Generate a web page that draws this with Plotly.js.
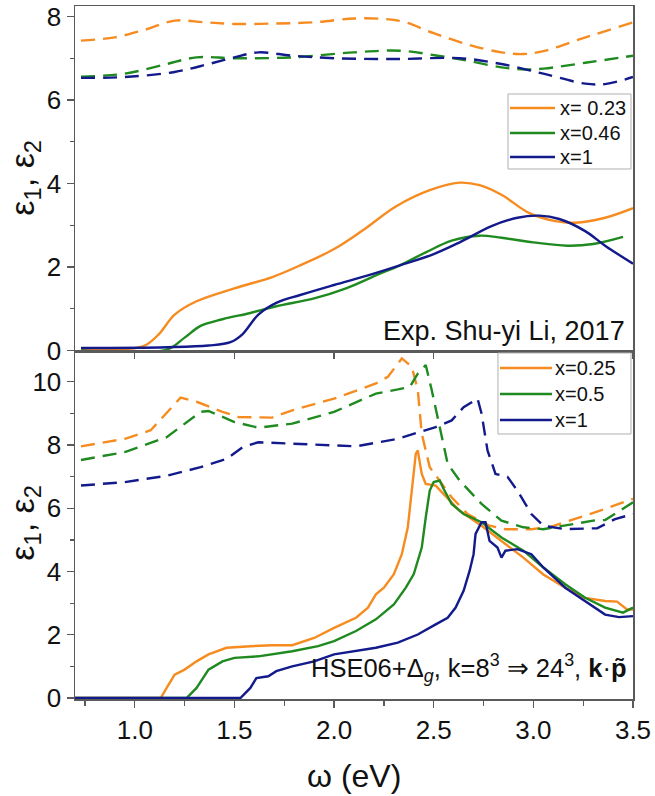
<!DOCTYPE html>
<html>
<head>
<meta charset="utf-8">
<script src="https://cdn.plot.ly/plotly-3.0.1.min.js"></script>
<style>html,body{margin:0;padding:0;background:#fff;}#chart{width:655px;height:796px;}</style>
</head>
<body>
<div id="chart"></div>
<script>
// ---------- Top panel: experiment (Shu-yi Li, 2017) ----------
const expE1_023_x = [0.73,0.9,1.05,1.2,1.35,1.5,1.7,1.9,2.1,2.25,2.35,2.5,2.67,2.84,2.95,3.05,3.25,3.5];
const expE1_023_y = [7.42,7.5,7.68,7.9,7.86,7.82,7.83,7.86,7.95,7.94,7.87,7.6,7.33,7.14,7.1,7.17,7.48,7.86];
const expE1_046_x = [0.73,0.95,1.16,1.31,1.5,1.79,2.1,2.33,2.52,2.67,2.84,2.96,3.05,3.26,3.5];
const expE1_046_y = [6.56,6.63,6.86,7.02,7.0,7.02,7.14,7.18,7.06,6.94,6.78,6.73,6.75,6.89,7.06];
const expE1_1_x = [0.73,0.95,1.2,1.37,1.5,1.62,1.79,2.0,2.31,2.63,2.84,3.05,3.26,3.36,3.5];
const expE1_1_y = [6.53,6.55,6.67,6.86,7.02,7.14,7.06,7.0,6.98,7.0,6.86,6.63,6.39,6.38,6.55];

const expE2_023_x = [0.73,1.04,1.12,1.2,1.31,1.5,1.69,1.83,2.0,2.15,2.31,2.48,2.63,2.73,2.84,2.98,3.11,3.21,3.36,3.5];
const expE2_023_y = [0.05,0.1,0.39,0.86,1.18,1.49,1.76,2.04,2.43,2.9,3.45,3.84,4.02,3.96,3.73,3.29,3.1,3.06,3.18,3.41];
const expE2_046_x = [0.73,1.16,1.25,1.33,1.44,1.58,1.71,1.9,2.06,2.21,2.33,2.46,2.59,2.73,2.84,3.0,3.17,3.3,3.45];
const expE2_046_y = [0.0,0.02,0.31,0.59,0.75,0.9,1.06,1.25,1.49,1.8,2.04,2.35,2.63,2.75,2.7,2.59,2.51,2.55,2.72];
const expE2_1_x = [0.73,1.16,1.37,1.48,1.54,1.62,1.71,1.83,2.0,2.17,2.33,2.5,2.63,2.79,2.92,3.03,3.13,3.26,3.36,3.5];
const expE2_1_y = [0.06,0.08,0.12,0.2,0.39,0.86,1.14,1.33,1.57,1.8,2.04,2.31,2.59,2.98,3.18,3.23,3.15,2.86,2.51,2.08];

// ---------- Bottom panel: HSE06 calculation ----------
const thE1_025_x = [0.73,0.95,1.08,1.23,1.31,1.44,1.52,1.69,1.79,2.0,2.21,2.27,2.34,2.39,2.42,2.44,2.48,2.53,2.59,2.67,2.78,2.86,2.99,3.09,3.26,3.36,3.5];
const thE1_025_y = [7.96,8.2,8.47,9.5,9.37,9.05,8.89,8.87,9.1,9.47,9.95,10.16,10.74,10.48,9.74,8.36,7.3,6.88,6.35,5.82,5.45,5.34,5.34,5.42,5.77,5.98,6.3];
const thE1_05_x = [0.73,0.95,1.16,1.33,1.37,1.5,1.62,1.79,2.0,2.21,2.32,2.38,2.42,2.46,2.49,2.53,2.57,2.63,2.74,2.84,2.95,3.05,3.16,3.3,3.36,3.5];
const thE1_05_y = [7.53,7.78,8.25,9.05,9.08,8.73,8.55,8.68,9.05,9.63,9.76,9.84,10.26,10.53,9.74,8.57,7.41,6.88,6.14,5.61,5.4,5.34,5.45,5.61,5.63,6.19];
const thE1_1_x = [0.73,0.95,1.16,1.33,1.46,1.54,1.62,1.79,2.11,2.32,2.51,2.59,2.65,2.72,2.74,2.77,2.81,2.87,2.92,2.99,3.05,3.16,3.32,3.41,3.5];
const thE1_1_y = [6.72,6.83,7.03,7.3,7.56,7.93,8.09,8.04,7.96,8.2,8.57,8.78,9.2,9.47,9.0,7.83,7.09,7.0,6.56,5.82,5.45,5.34,5.37,5.66,5.82];

const thE2_025_x = [0.7,1.13,1.16,1.2,1.25,1.31,1.37,1.46,1.58,1.69,1.79,1.9,2.0,2.11,2.17,2.21,2.25,2.3,2.34,2.37,2.39,2.41,2.42,2.44,2.46,2.51,2.55,2.63,2.74,2.84,2.95,3.05,3.16,3.26,3.36,3.42,3.47,3.5];
const thE2_025_y = [0,0,0.32,0.74,0.9,1.16,1.38,1.59,1.64,1.67,1.67,1.9,2.22,2.54,2.86,3.28,3.49,3.92,4.55,5.4,6.56,7.72,7.83,7.09,6.77,6.72,6.45,5.92,5.45,4.97,4.44,3.91,3.49,3.17,3.07,3.05,2.8,2.8];
const thE2_05_x = [0.7,1.26,1.31,1.37,1.44,1.5,1.62,1.79,1.92,2.0,2.11,2.21,2.3,2.36,2.4,2.44,2.46,2.48,2.5,2.53,2.55,2.59,2.65,2.74,2.84,2.95,3.05,3.16,3.26,3.36,3.45,3.5];
const thE2_05_y = [0,0,0.32,0.9,1.16,1.27,1.32,1.48,1.64,1.8,2.12,2.49,2.96,3.49,3.92,4.76,5.71,6.56,6.83,6.88,6.61,6.14,5.82,5.56,5.08,4.66,4.13,3.6,3.17,2.86,2.7,2.86];
const thE2_1_x = [0.7,1.53,1.58,1.61,1.67,1.71,1.79,1.9,2.0,2.11,2.21,2.32,2.42,2.51,2.57,2.61,2.65,2.68,2.7,2.71,2.74,2.76,2.78,2.82,2.84,2.86,2.92,2.99,3.05,3.16,3.26,3.36,3.43,3.5];
const thE2_1_y = [0,0,0.32,0.63,0.69,0.85,1.0,1.16,1.38,1.48,1.59,1.75,2.01,2.33,2.54,2.86,3.39,4.02,4.55,5.19,5.56,5.56,4.97,4.76,4.44,4.66,4.71,4.55,4.13,3.49,3.07,2.64,2.56,2.59];

const expLabels = ['x= 0.23','x=0.46','x=1'];
const thLabels = ['x=0.25','x=0.5','x=1'];
const colors = ['#f68b1f','#1f8a1f','#131a8c'];

const FONT = "'Liberation Sans', Arial, sans-serif";
const LW = 2.4;
const DASH = '14px,8px';

function tr(x, y, c, xa, ya, dashed, name, spline) {
  return {
    x: x, y: y, xaxis: xa, yaxis: ya, type: 'scatter', mode: 'lines',
    line: {color: c, width: LW, dash: dashed ? DASH : 'solid', shape: spline ? 'spline' : 'linear', smoothing: 1},
    name: name, showlegend: false, hoverinfo: 'skip'
  };
}

const data = [
  tr(expE1_023_x, expE1_023_y, colors[0], 'x', 'y', true, 'ε1 ' + expLabels[0], true),
  tr(expE1_046_x, expE1_046_y, colors[1], 'x', 'y', true, 'ε1 ' + expLabels[1], true),
  tr(expE1_1_x, expE1_1_y, colors[2], 'x', 'y', true, 'ε1 ' + expLabels[2], true),
  tr(expE2_023_x, expE2_023_y, colors[0], 'x', 'y', false, expLabels[0], true),
  tr(expE2_046_x, expE2_046_y, colors[1], 'x', 'y', false, expLabels[1], true),
  tr(expE2_1_x, expE2_1_y, colors[2], 'x', 'y', false, expLabels[2], true),
  tr(thE1_025_x, thE1_025_y, colors[0], 'x2', 'y2', true, 'ε1 ' + thLabels[0], false),
  tr(thE1_05_x, thE1_05_y, colors[1], 'x2', 'y2', true, 'ε1 ' + thLabels[1], false),
  tr(thE1_1_x, thE1_1_y, colors[2], 'x2', 'y2', true, 'ε1 ' + thLabels[2], false),
  tr(thE2_025_x, thE2_025_y, colors[0], 'x2', 'y2', false, thLabels[0], false),
  tr(thE2_05_x, thE2_05_y, colors[1], 'x2', 'y2', false, thLabels[1], false),
  tr(thE2_1_x, thE2_1_y, colors[2], 'x2', 'y2', false, thLabels[2], false)
];

const axLine = '#5a5a5a';
const tickFont = {family: FONT, size: 26, color: '#111'};

// legend boxes (paper coordinates) built from the label arrays
const shapes = [];
const annotations = [];
function makeLegend(labels, box, lineX0, lineX1, textX, rows) {
  shapes.push({type: 'rect', xref: 'paper', yref: 'paper', x0: box[0], x1: box[1], y0: box[2], y1: box[3],
               line: {color: '#b0b0b0', width: 1}, fillcolor: '#fff', layer: 'above'});
  labels.forEach((lab, i) => {
    shapes.push({type: 'line', xref: 'paper', yref: 'paper', x0: lineX0, x1: lineX1, y0: rows[i], y1: rows[i],
                 line: {color: colors[i], width: 2.6}, layer: 'above'});
    annotations.push({text: lab, xref: 'paper', yref: 'paper', x: textX, y: rows[i], xanchor: 'left', yanchor: 'middle',
                      showarrow: false, font: {family: FONT, size: 20, color: '#111'}});
  });
}
makeLegend(expLabels, [0.776, 0.9964, 0.7648, 0.873], 0.7796, 0.8602, 0.866, [0.8528, 0.8167, 0.7821]);
makeLegend(thLabels, [0.758, 0.9964, 0.3824, 0.4993], 0.7616, 0.8548, 0.857, [0.4776, 0.4401, 0.4026]);

annotations.push(
  {text: 'Exp. Shu-yi Li, 2017', xref: 'paper', yref: 'paper', x: 0.99, y: 0.531,
   xanchor: 'right', yanchor: 'middle', showarrow: false, font: {family: FONT, size: 27, color: '#111'}},
  {text: 'HSE06+Δ<sub><i>g</i></sub>, k=8<sup>3</sup> ⇒ 24<sup>3</sup>, <b>k</b>·<b>p̃</b>', xref: 'paper', yref: 'paper', x: 0.992, y: 0.016,
   xanchor: 'right', yanchor: 'bottom', showarrow: false, font: {family: FONT, size: 25.5, color: '#111'}},
  {text: 'ε<sub>1</sub>, ε<sub>2</sub>', xref: 'paper', yref: 'paper', x: -0.09, y: 0.752,
   xanchor: 'center', yanchor: 'middle', textangle: -90, showarrow: false, font: {family: FONT, size: 34, color: '#111'}},
  {text: 'ε<sub>1</sub>, ε<sub>2</sub>', xref: 'paper', yref: 'paper', x: -0.09, y: 0.254,
   xanchor: 'center', yanchor: 'middle', textangle: -90, showarrow: false, font: {family: FONT, size: 34, color: '#111'}},
  {text: 'ω (eV)', xref: 'paper', yref: 'paper', x: 0.5, y: -0.111,
   xanchor: 'center', yanchor: 'middle', showarrow: false, font: {family: FONT, size: 32, color: '#111'}}
);

const layout = {
  width: 655, height: 796,
  margin: {l: 75, r: 22, t: 6, b: 97},
  paper_bgcolor: '#fff', plot_bgcolor: '#fff',
  font: {family: FONT, color: '#111'},
  showlegend: false,
  xaxis: {
    domain: [0, 1], anchor: 'y', range: [0.7, 3.5], dtick: 0.5, tick0: 0,
    showticklabels: false, ticks: 'outside', ticklen: 6, tickcolor: axLine, tickwidth: 1.3,
    showline: true, linecolor: axLine, linewidth: 1.5, mirror: true, showgrid: false, zeroline: false
  },
  yaxis: {
    domain: [0.501, 1], anchor: 'x', range: [-0.03, 8.25], dtick: 2, tick0: 0,
    ticks: 'outside', ticklen: 7, tickcolor: axLine, tickwidth: 1.3, tickfont: tickFont, ticklabeloverflow: 'allow',
    minor: {dtick: 1, ticks: 'outside', ticklen: 4, tickcolor: axLine, tickwidth: 1.3},
    showline: true, linecolor: axLine, linewidth: 1.5, mirror: true, showgrid: false, zeroline: false
  },
  xaxis2: {
    domain: [0, 1], anchor: 'y2', range: [0.7, 3.5], dtick: 0.5, tick0: 0, tickformat: '.1f',
    ticks: 'outside', ticklen: 7, tickcolor: axLine, tickwidth: 1.3, tickfont: tickFont, ticklabeloverflow: 'allow',
    minor: {dtick: 0.25, ticks: 'outside', ticklen: 5, tickcolor: axLine, tickwidth: 1.3},
    showline: true, linecolor: axLine, linewidth: 1.5, mirror: true, showgrid: false, zeroline: false
  },
  yaxis2: {
    domain: [0, 0.501], anchor: 'x2', range: [-0.03, 10.95], dtick: 2, tick0: 0,
    ticks: 'outside', ticklen: 7, tickcolor: axLine, tickwidth: 1.3, tickfont: tickFont, ticklabeloverflow: 'allow',
    minor: {dtick: 1, ticks: 'outside', ticklen: 4, tickcolor: axLine, tickwidth: 1.3},
    showline: true, linecolor: axLine, linewidth: 1.5, mirror: true, showgrid: false, zeroline: false
  },
  shapes: shapes,
  annotations: annotations
};

Plotly.newPlot('chart', data, layout, {displayModeBar: false, staticPlot: true});
</script>
</body>
</html>
